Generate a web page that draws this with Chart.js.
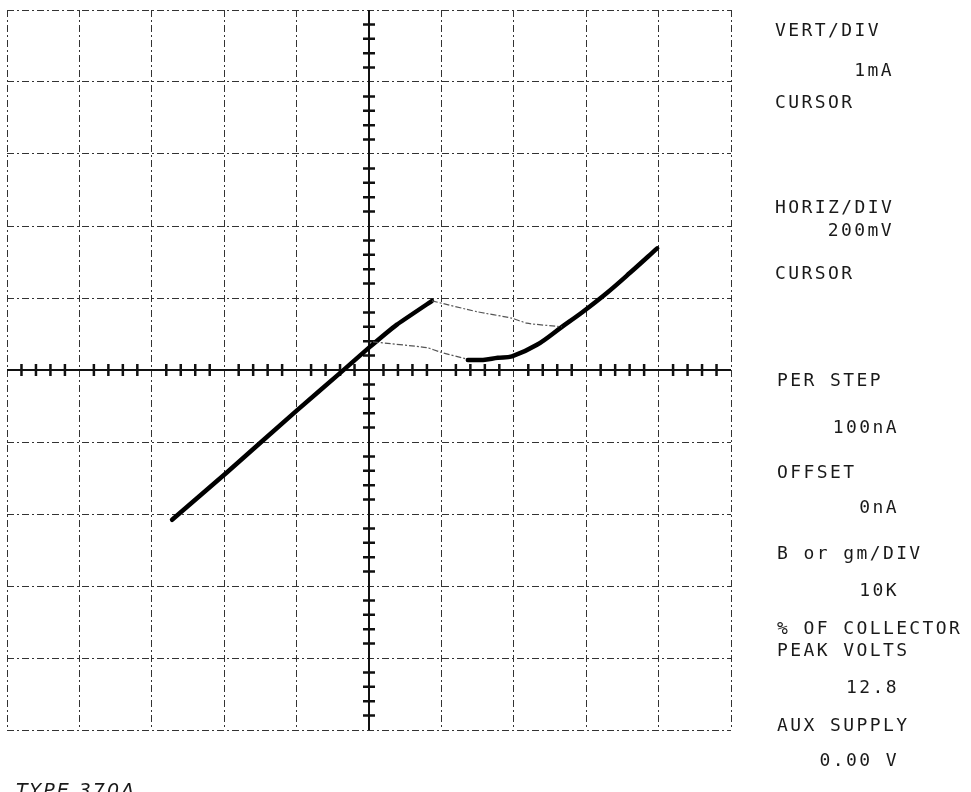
<!DOCTYPE html>
<html>
<head>
<meta charset="utf-8">
<script src="https://cdn.jsdelivr.net/npm/chart.js@4/dist/chart.umd.min.js"></script>
<style>
    html, body { margin: 0; padding: 0; background: #fff; overflow: hidden; }
    #wrap { position: relative; width: 971px; height: 792px; }
    #crt { position: absolute; left: 0; top: 0; }
    .lbl {
        position: absolute;
        font-family: "DejaVu Sans Mono", monospace;
        font-size: 18px;
        line-height: 20px;
        letter-spacing: 2.4px;
        color: #1a1a1a;
        white-space: pre;
    }
    .val { text-align: right; width: 200px; }
    #type {
        position: absolute; left: 16px; top: 780px;
        font-family: "DejaVu Sans", sans-serif; font-style: italic;
        font-size: 19px; line-height: 20px; letter-spacing: 2px; color: #1a1a1a;
    }
</style>
</head>
<body>
<div id="wrap">
    <canvas id="crt" width="971" height="792"></canvas>
    <div id="panel"></div>
    <div id="type">TYPE 370A</div>
</div>
<script>
    // horizontal: collector volts (mV), vertical: collector current (mA)
    // rising branch, drawn with the heavy trace
    const riseV = [-544, -392, -199, -77, 0, 77, 174];
    const riseI = [-2.08, -1.42, -0.56, -0.03, 0.31, 0.63, 0.96];
    // right branch after the valley
    const rightV = [273, 315, 356, 395, 464, 533, 591, 657, 721, 796];
    const rightI = [0.14, 0.14, 0.17, 0.19, 0.35, 0.60, 0.81, 1.07, 1.35, 1.69];
    // faint switching traces
    const jumpUpV = [174, 298, 395, 436, 533];
    const jumpUpI = [0.96, 0.81, 0.72, 0.65, 0.60];
    const jumpDownV = [11, 160, 196, 271];
    const jumpDownI = [0.39, 0.31, 0.25, 0.15];

    // readout panel on the right
    const readoutNames = ["VERT/DIV", "CURSOR", "HORIZ/DIV", "CURSOR", "PER STEP", "OFFSET", "B or gm/DIV", "% OF COLLECTOR", "PEAK VOLTS", "AUX SUPPLY"];
    const readoutNameY = [30, 102, 207, 273, 380, 472, 553, 628, 650, 725];
    const readoutValues = ["1mA", "200mV", "100nA", "0nA", "10K", "12.8", "0.00 V"];
    const readoutValueY = [70, 230, 427, 507, 590, 687, 760];

    const panel = document.getElementById("panel");
    readoutNames.forEach((t, i) => {
        const el = document.createElement("div");
        el.className = "lbl";
        el.style.left = (i < 4 ? 775 : 777) + "px";
        el.style.top = (readoutNameY[i] - 10) + "px";
        el.textContent = t;
        panel.appendChild(el);
    });
    readoutValues.forEach((t, i) => {
        const el = document.createElement("div");
        el.className = "lbl val";
        el.style.left = ((i < 2 ? 892 : 897) - 200 + 2) + "px";
        el.style.top = (readoutValueY[i] - 10) + "px";
        el.textContent = t;
        panel.appendChild(el);
    });

    function pts(xs, ys) {
        return xs.map((x, i) => ({ x: x, y: ys[i] }));
    }

    // solid centre axes with the small cross marks (5 per division)
    const centreAxes = {
        id: "centreAxes",
        beforeDatasetsDraw(chart) {
            const ctx = chart.ctx, xs = chart.scales.x, ys = chart.scales.y;
            const x0 = xs.getPixelForValue(0), y0 = ys.getPixelForValue(0);
            ctx.save();
            ctx.strokeStyle = "#111";
            ctx.lineWidth = 2;
            ctx.beginPath();
            ctx.moveTo(xs.left, y0); ctx.lineTo(xs.right, y0);
            ctx.moveTo(x0, ys.top); ctx.lineTo(x0, ys.bottom);
            ctx.stroke();
            ctx.lineWidth = 2.5;
            ctx.beginPath();
            for (let v = xs.min; v <= xs.max; v += 40) {
                if (v % 200 === 0) continue;
                const p = xs.getPixelForValue(v);
                ctx.moveTo(p, y0 - 6); ctx.lineTo(p, y0 + 6);
            }
            for (let k = -25; k <= 25; k++) {
                if (k % 5 === 0) continue;
                const p = ys.getPixelForValue(k / 5);
                ctx.moveTo(x0 - 6, p); ctx.lineTo(x0 + 6, p);
            }
            ctx.stroke();
            ctx.restore();
        }
    };

    const thin = { borderColor: "#555", borderWidth: 1.2, borderDash: [6, 2, 2, 2], tension: 0.2 };
    const thick = { borderColor: "#000", borderWidth: 4.5, borderCapStyle: "round", borderJoinStyle: "round" };

    new Chart(document.getElementById("crt"), {
        type: "scatter",
        data: {
            datasets: [
                Object.assign({ data: pts(jumpUpV, jumpUpI) }, thin),
                Object.assign({ data: pts(jumpDownV, jumpDownI) }, thin),
                Object.assign({ data: pts(riseV, riseI), tension: 0.1 }, thick),
                Object.assign({ data: pts(rightV, rightI), tension: 0.35 }, thick)
            ]
        },
        options: {
            responsive: false,
            animation: false,
            devicePixelRatio: 1,
            showLine: true,
            elements: { point: { radius: 0, hoverRadius: 0 } },
            layout: { padding: { left: 7, top: 10, right: 240, bottom: 62 } },
            plugins: { legend: { display: false }, tooltip: { enabled: false } },
            scales: {
                x: {
                    min: -1000, max: 1000,
                    ticks: { display: false, stepSize: 200 },
                    grid: { color: "#333", lineWidth: 1, drawTicks: false },
                    border: { display: false, dash: [7, 3, 2, 3] }
                },
                y: {
                    min: -5, max: 5,
                    ticks: { display: false, stepSize: 1 },
                    grid: { color: "#333", lineWidth: 1, drawTicks: false },
                    border: { display: false, dash: [7, 3, 2, 3] }
                }
            }
        },
        plugins: [centreAxes]
    });
</script>
</body>
</html>
